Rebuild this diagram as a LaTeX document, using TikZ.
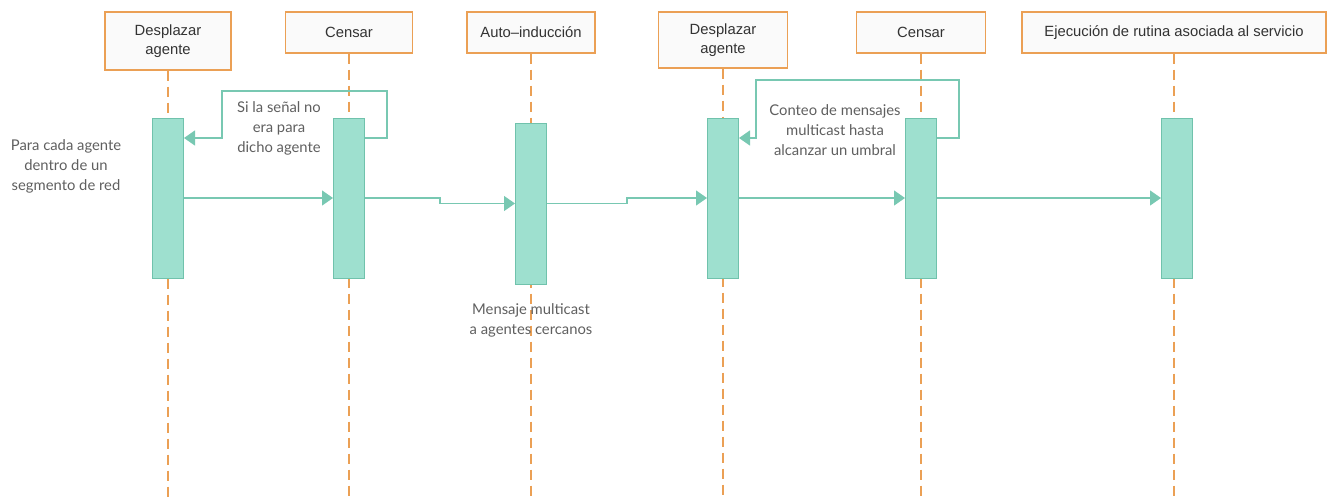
\documentclass[tikz,border=0pt]{standalone}
\usepackage{fontspec}
\setmainfont{Lato}
\newfontfamily\headfont{Liberation Sans}
\usetikzlibrary{arrows.meta}

\definecolor{lineorange}{RGB}{235,160,85}
\definecolor{barfill}{RGB}{158,224,207}
\definecolor{bardraw}{RGB}{112,194,172}
\definecolor{msgteal}{RGB}{120,200,178}
\definecolor{notegray}{RGB}{95,95,95}
\definecolor{headfill}{RGB}{250,250,250}

\begin{document}
\begin{tikzpicture}[x=1pt, y=-1pt,
		head/.style={draw=lineorange, line width=1.3pt, fill=headfill, text=black!80,
			font=\headfont\fontsize{14.8}{19}\selectfont, align=center, inner sep=0pt},
		bar/.style={draw=bardraw, fill=barfill, line width=1pt, minimum width=31pt, inner sep=0pt},
		life/.style={draw=lineorange, dash pattern=on 10pt off 6pt, line width=1.2pt},
		msg/.style={draw=msgteal, line width=1.3pt, -{Triangle[length=11pt,width=15pt]}},
		note/.style={text=notegray, font=\fontsize{14.8}{20}\selectfont, align=center}]
		\useasboundingbox (0,0) rectangle (1328,498);
		\coordinate (bottom) at (0,498);
		
		% headers
		\node[head, minimum width=126pt, minimum height=58pt] (h1) at (168,41) {Desplazar\\agente};
		\node[head, minimum width=127pt, minimum height=41pt] (h2) at (349,32.5) {Censar};
		\node[head, minimum width=128pt, minimum height=41pt] (h3) at (531,32.5) {Auto–inducción};
		\node[head, minimum width=129pt, minimum height=56pt] (h4) at (723,40) {Desplazar\\agente};
		\node[head, minimum width=129pt, minimum height=41pt] (h5) at (921,32.5) {Censar};
		\node[head, minimum width=304pt, minimum height=41pt] (h6) at (1174,32.5) {Ejecución de rutina asociada al servicio};
		
		% lifelines
		\foreach \n in {1,...,6}
			\draw[life] (h\n.south) -- (h\n.south |- bottom);
		
		% activation bars
		\node[bar, minimum height=160pt] (b1) at (h1.south |- 0,198) {};
		\node[bar, minimum height=160pt] (b2) at (h2.south |- 0,198) {};
		\node[bar, minimum height=161pt] (b3) at (h3.south |- 0,203.5) {};
		\node[bar, minimum height=160pt] (b4) at (h4.south |- 0,198) {};
		\node[bar, minimum height=160pt] (b5) at (h5.south |- 0,198) {};
		\node[bar, minimum height=160pt, xshift=3pt] (b6) at (h6.south |- 0,198) {};
		
		% messages
		\draw[msg] (b1.east) -- (b2.west);
		\draw[msg] (b2.east) -- ++(75,0) |- (b3.west);
		\draw[msg] (b3.east) -- ++(80,0) |- (b4.west);
		\draw[msg] (b4.east) -- (b5.west);
		\draw[msg] (b5.east) -- (b6.west);
		
		% loops back
		\draw[msg] ([yshift=60pt]b2.east) -| ++(22,-47) -| ([xshift=38pt,yshift=60pt]b1.east) -- ([yshift=60pt]b1.east);
		\draw[msg] ([yshift=60pt]b5.east) -| ++(22,-58) -| ([xshift=17pt,yshift=60pt]b4.east) -- ([yshift=60pt]b4.east);
		
		% notes
		\node[note] (n1) at (66,166) {Para cada agente\\dentro de un\\segmento de red};
		\node[note] (n2) at (279,128) {Si la señal no\\era para\\dicho agente};
		\node[note] (n3) at (531,320) {Mensaje multicast\\a agentes cercanos};
		\node[note] (n4) at (835,130) {Conteo de mensajes\\multicast hasta\\alcanzar un umbral};
	\end{tikzpicture}
\end{document}
